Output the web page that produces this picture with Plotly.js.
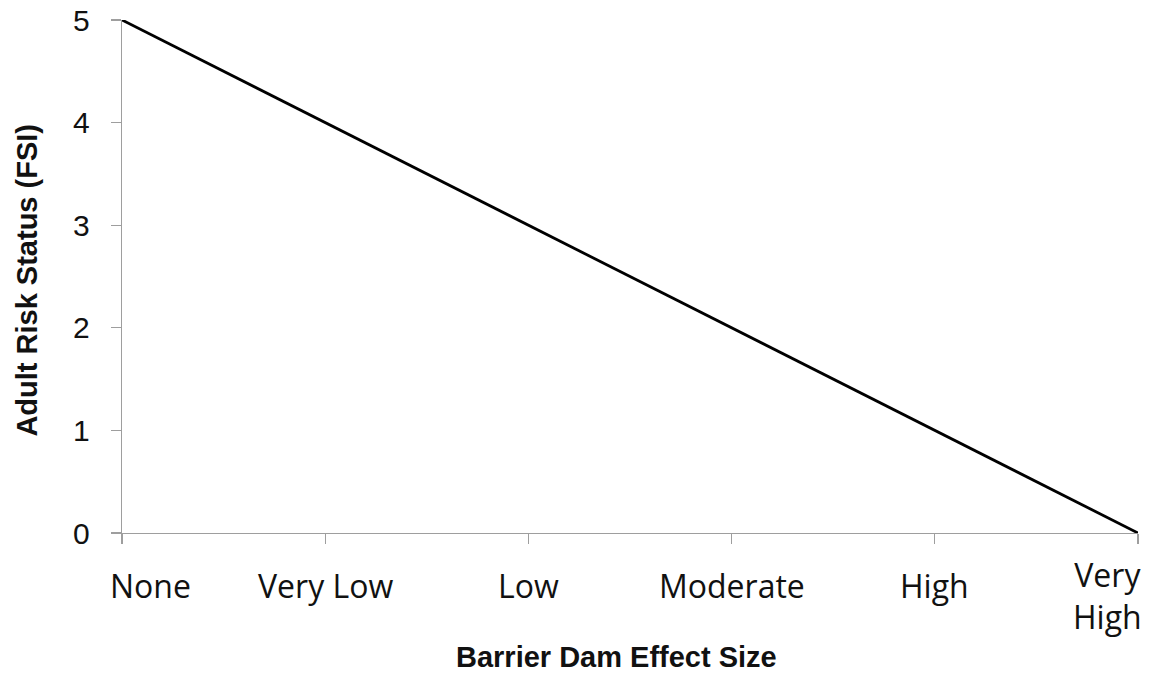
<!DOCTYPE html>
<html>
<head>
<meta charset="utf-8">
<script src="https://cdn.plot.ly/plotly-3.0.1.min.js"></script>
<style>html,body{margin:0;padding:0;background:#fff;}#chart{width:1152px;height:675px;}</style>
</head>
<body>
<div id="chart"></div>
<script>
const categories = ["None", "Very Low", "Low", "Moderate", "High", "Very High"];
const tickLabels = ["None", "Very Low", "Low", "Moderate", "High", "Very<br>High"];
const riskStatus = [5, 4, 3, 2, 1, 0];
const yTicks = [0, 1, 2, 3, 4, 5];
const xTitle = "Barrier Dam Effect Size";
const yTitle = "Adult Risk Status (FSI)";

const trace = {
  x: categories,
  y: riskStatus,
  type: "scatter",
  mode: "lines",
  line: {color: "#000000", width: 2.8},
  hoverinfo: "skip"
};

const axisGray = "#9e9e9e";
const labelFont = {family: "Open Sans, sans-serif", size: 32, color: "#111111"};
const titleFont = {family: "Liberation Sans, Arial, sans-serif", size: 29, color: "#111111"};

const annotations = categories.map((c, i) => {
  const first = i === 0, last = i === categories.length - 1;
  const multiLine = tickLabels[i].indexOf("<br>") >= 0;
  return {
    xref: "x", yref: "paper",
    x: c, y: multiLine ? -0.121 : -0.103,
    text: tickLabels[i],
    showarrow: false,
    xanchor: first ? "left" : (last ? "right" : "center"),
    xshift: first ? -14 : (last ? 6 : 0),
    yanchor: "middle",
    align: "center",
    font: labelFont
  };
});

annotations.push({
  xref: "paper", yref: "paper",
  x: 0.487, y: -0.242,
  text: "<b>" + xTitle + "</b>",
  showarrow: false,
  xanchor: "center", yanchor: "middle",
  font: titleFont
});
annotations.push({
  xref: "paper", yref: "paper",
  x: -0.093, y: 0.493,
  text: "<b>" + yTitle + "</b>",
  textangle: -90,
  showarrow: false,
  xanchor: "center", yanchor: "middle",
  font: titleFont
});

const layout = {
  width: 1152,
  height: 675,
  margin: {l: 122, r: 14, t: 20, b: 142},
  paper_bgcolor: "#ffffff",
  plot_bgcolor: "#ffffff",
  showlegend: false,
  xaxis: {
    type: "category",
    categoryarray: categories,
    range: [0, categories.length - 1],
    tickvals: categories,
    showticklabels: false,
    showgrid: false,
    zeroline: false,
    showline: true,
    linecolor: axisGray,
    linewidth: 1.3,
    ticks: "outside",
    ticklen: 10,
    tickcolor: axisGray,
    tickwidth: 1.3,
    automargin: false
  },
  yaxis: {
    range: [0, 5],
    tickvals: yTicks,
    showgrid: false,
    zeroline: false,
    showline: true,
    linecolor: axisGray,
    linewidth: 1.3,
    ticks: "outside",
    ticklen: 10,
    tickcolor: axisGray,
    tickwidth: 1.3,
    tickfont: {family: "Liberation Sans, Arial, sans-serif", size: 30, color: "#111111"},
    ticklabelstandoff: 15,
    automargin: false
  },
  annotations: annotations
};

Plotly.newPlot("chart", [trace], layout, {displayModeBar: false, staticPlot: true});
</script>
</body>
</html>
